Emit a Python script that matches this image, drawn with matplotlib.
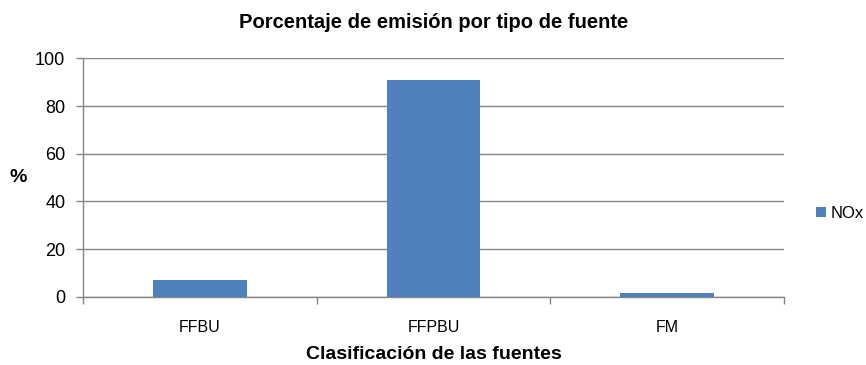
import matplotlib
matplotlib.use("Agg")
import matplotlib.pyplot as plt
from matplotlib.patches import Patch

categories = ["FFBU", "FFPBU", "FM"]
nox_values = [7.0, 91.0, 1.4]
y_ticks = [0, 20, 40, 60, 80, 100]
series_name = "NOx"

plt.rcParams['font.family'] = ['Liberation Sans', 'DejaVu Sans']

fig = plt.figure(figsize=(8.66, 3.65), dpi=100)
ax = fig.add_axes([0.0962, 0.187, 0.8091, 0.653])

bar_color = "#4F81BD"
grid_color = "#868686"
x = list(range(len(categories)))
ax.bar(x, nox_values, width=0.4, color=bar_color, zorder=3)

ax.set_xlim(-0.5, len(categories) - 0.5)
ax.set_ylim(0, 100)
ax.set_yticks(y_ticks)
ax.set_yticklabels([str(v) for v in y_ticks], fontsize=13)
ax.set_xticks(x)
ax.set_xticklabels(categories, fontsize=11.5)
ax.tick_params(axis='x', length=0, pad=17)
ax.set_xticks([i + 0.5 for i in range(-1, len(categories))], minor=True)
ax.tick_params(axis='x', which='minor', length=5, color=grid_color, width=1)
ax.tick_params(axis='y', length=5, color=grid_color, width=1, pad=8)

ax.grid(axis='y', color=grid_color, linewidth=1, zorder=0)
for s in ['top', 'right']:
    ax.spines[s].set_visible(False)
for s in ['left', 'bottom']:
    ax.spines[s].set_color(grid_color)
    ax.spines[s].set_linewidth(1)

ax.set_title("Porcentaje de emisión por tipo de fuente", fontsize=14.5,
             fontweight='bold', pad=22)
ax.set_xlabel("Clasificación de las fuentes", fontsize=14, fontweight='bold', labelpad=8)
fig.text(18 / 866, 1 - 178 / 365, "%", fontsize=14, fontweight='bold',
         ha='center', va='center')

handles = [Patch(facecolor=bar_color, label=series_name)]
fig.legend(handles=handles, loc='center left', bbox_to_anchor=(0.942, 0.415),
           frameon=False, fontsize=12, handlelength=0.6, handleheight=0.6,
           handletextpad=0.3, borderaxespad=0, borderpad=0)

fig.savefig("out.png", dpi=100, facecolor='white')
